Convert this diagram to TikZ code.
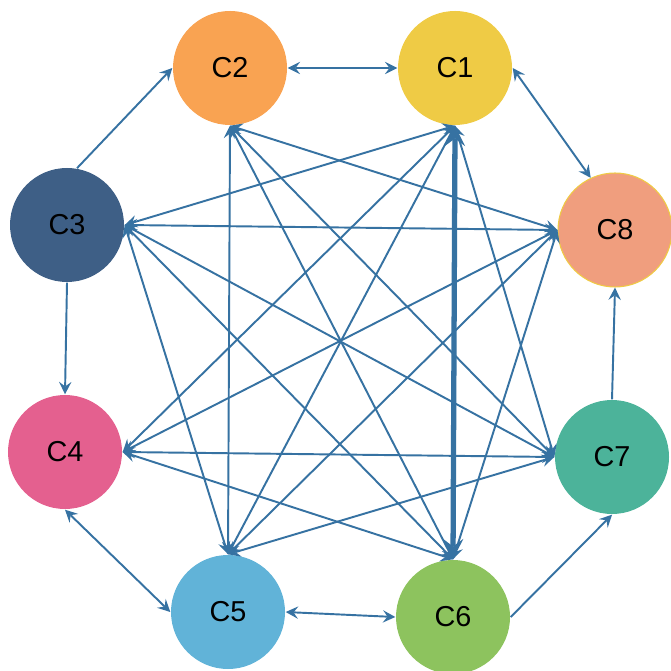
\documentclass[tikz,border=0pt]{standalone}
\usepackage{fontspec}
\setmainfont{Liberation Sans}
\definecolor{cone}{HTML}{EFCB45}
\definecolor{ctwo}{HTML}{F9A352}
\definecolor{cthree}{HTML}{3E5F86}
\definecolor{cfour}{HTML}{E4608F}
\definecolor{cfive}{HTML}{61B3D8}
\definecolor{csix}{HTML}{8DC35E}
\definecolor{cseven}{HTML}{4CB39A}
\definecolor{ceight}{HTML}{F09E7E}
\definecolor{edgeblue}{HTML}{3672A2}
\begin{document}
\begin{tikzpicture}[
    >=stealth,
    var/.style={circle, minimum size=11.4mm, inner sep=0pt,
                font=\fontsize{8.2}{10}\selectfont},
    edge/.style={->, edgeblue, line width=0.55pt},
    both/.style={<->, edgeblue, line width=0.55pt}]

  \useasboundingbox (0,0) rectangle (6.71,6.70);

  % 上排
  \node[var, fill=ctwo] (C2) at (2.30,6.02) {C2};
  \node[var, fill=cone] (C1) at (4.55,6.02) {C1};

  % 左右两侧
  \node[var, fill=cthree] (C3) at (0.67,4.45) {C3};
  \node[var, fill=ceight, draw=cone, line width=0.3pt] (C8) at (6.15,4.40) {C8};
  \node[var, fill=cfour] (C4) at (0.65,2.18) {C4};
  \node[var, fill=cseven] (C7) at (6.12,2.13) {C7};

  % 下排
  \node[var, fill=cfive] (C5) at (2.28,0.58) {C5};
  \node[var, fill=csix] (C6) at (4.53,0.53) {C6};

  % 外圈
  \draw[edge] (C3.80) -- (C2.west);
  \draw[both] (C2.east) -- (C1.west);
  \draw[both] (C1.east) -- (C8.115);
  \draw[edge] (C7.north) -- (C8.south);
  \draw[edge] (C6.east) -- (C7.south);
  \draw[both] (C5.east) -- (C6.west);
  \draw[both] (C4.south) -- (C5.west);
  \draw[edge] (C3.south) -- (C4.north);

  % C1 出发
  \draw[both] (C1.south) -- (C3.east);
  \draw[both] (C1.south) -- (C4.east);
  \draw[both] (C1.south) -- (C5.north);
  \draw[both] (C1.south) -- (C7.west);
  \draw[<->, edgeblue, line width=1.5pt] (C1.south) -- (C6.north);

  % C2 出发
  \draw[both] (C2.south) -- (C5.north);
  \draw[both] (C2.south) -- (C6.north);
  \draw[both] (C2.south) -- (C7.west);
  \draw[both] (C2.south) -- (C8.west);

  % C3 出发
  \draw[both] (C3.east) -- (C5.north);
  \draw[both] (C3.east) -- (C6.north);
  \draw[both] (C3.east) -- (C7.west);
  \draw[both] (C3.east) -- (C8.west);

  % C4, C5, C6 出发
  \draw[both] (C4.east) -- (C6.north);
  \draw[both] (C4.east) -- (C7.west);
  \draw[both] (C4.east) -- (C8.west);
  \draw[both] (C5.north) -- (C7.west);
  \draw[both] (C5.north) -- (C8.west);
  \draw[both] (C6.north) -- (C8.west);

\end{tikzpicture}
\end{document}
